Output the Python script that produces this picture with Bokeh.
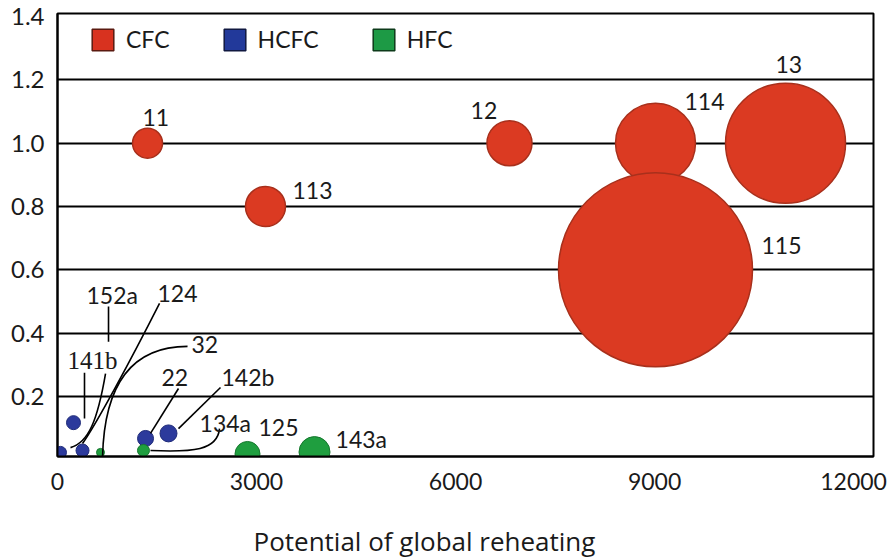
from bokeh.plotting import figure
from bokeh.models import Range1d, FixedTicker, PrintfTickFormatter, Legend, LegendItem, Title
from bokeh.core.properties import value
from bokeh.embed import file_html
from bokeh.resources import INLINE

# ---------------- data ----------------
x_ticks = [0, 3000, 6000, 9000, 12000]
y_ticks = [0.2, 0.4, 0.6, 0.8, 1.0, 1.2, 1.4]

cfc_names = ["11", "113", "12", "114", "13", "115"]
cfc_gwp = [1357, 3135, 6813, 9014, 10974, 9014]
cfc_odp = [1.0, 0.8, 1.0, 1.0, 1.0, 0.6]
cfc_bubble = [30, 40, 45, 80, 120, 194]

hcfc_names = ["141b", "124", "22", "142b", "152a"]
hcfc_gwp = [241, 377, 1327, 1673, 45]
hcfc_odp = [0.117, 0.029, 0.067, 0.083, 0.023]
hcfc_bubble = [14, 13, 16, 17, 12]

hfc_names = ["134a", "32", "125", "143a"]
hfc_gwp = [1296, 648, 2864, 3874]
hfc_odp = [0.029, 0.023, 0.018, 0.024]
hfc_bubble = [12, 8, 25, 31]

# label annotations (data coordinates)
lab_text = ["11", "113", "12", "114", "13", "115", "152a", "124", "32", "22", "142b", "134a", "125", "143a"]
lab_x = [1281, 3542, 6226, 9451, 10823, 10612, 437, 1507, 2020, 1568, 2472, 2141, 3030, 4191]
lab_y = [1.081, 0.851, 1.104, 1.132, 1.249, 0.677, 0.519, 0.525, 0.364, 0.260, 0.260, 0.117, 0.102, 0.064]
serif_text = ["141b"]
serif_x = [151]
serif_y = [0.313]

# leader lines
seg_x0 = [769, 407, 1824, 2457]
seg_y0 = [0.484, 0.275, 0.225, 0.228]
seg_x1 = [769, 407, 1402, 1824]
seg_y1 = [0.373, 0.130, 0.083, 0.098]

bz_x0 = [724, 1538, 1960, 2442]
bz_y0 = [0.272, 0.494, 0.358, 0.098]
bz_cx0 = [603, 1100, 1251, 2412]
bz_cy0 = [0.124, 0.313, 0.358, 0.029]
bz_cx1 = [467, 573, 693, 2035]
bz_cy1 = [0.054, 0.108, 0.275, 0.023]
bz_x1 = [196, 377, 678, 1402]
bz_y1 = [0.038, 0.051, -0.003, 0.029]

legend_labels = ["CFC", "HCFC", "HFC"]
x_title = "Potential of global reheating"

RED, RED_E = "#db3a22", "#a8301c"
BLUE, BLUE_E = "#2c3a9c", "#1e2a78"
GREEN, GREEN_E = "#1f9e3f", "#17782f"
FONT = "Lato"

p = figure(width=888, height=558, output_backend="svg", toolbar_location=None,
           x_range=Range1d(0, 12300), y_range=Range1d(0.01, 1.41),
           min_border_left=57, min_border_top=13, min_border_right=15, min_border_bottom=102)
p.background_fill_color = "white"
p.border_fill_color = "white"
p.outline_line_color = "black"
p.outline_line_width = 2

p.xgrid.visible = False
p.ygrid.ticker = FixedTicker(ticks=[0.2, 0.4, 0.6, 0.8, 1.0, 1.2])
p.ygrid.grid_line_color = "black"
p.ygrid.grid_line_width = 2

p.xaxis.ticker = FixedTicker(ticks=x_ticks)
p.yaxis.ticker = FixedTicker(ticks=y_ticks)
p.yaxis.formatter = PrintfTickFormatter(format="%.1f")
for ax in (p.xaxis, p.yaxis):
    ax.major_tick_line_color = None
    ax.minor_tick_line_color = None
    ax.axis_line_color = "black"
    ax.axis_line_width = 2
    ax.major_label_text_font = FONT
    ax.major_label_text_color = "#1a1a1a"
p.yaxis.major_label_standoff = 7
p.xaxis.major_label_standoff = 10
p.yaxis.major_label_text_font_size = "24px"
p.xaxis.major_label_text_font_size = "23px"
# spacer between the tick labels and the (offset) axis title
p.xaxis.axis_label = " "
p.xaxis.axis_label_text_font_size = "2px"
p.xaxis.axis_label_standoff = 23

# x-axis title, placed as in the reference (left of the frame centre)
p.add_layout(Title(text=x_title, align="left", offset=196, standoff=0,
                   text_font="Open Sans", text_font_size="26px", text_font_style="normal",
                   text_color="#1a1a1a"), "below")

# bubbles
p.scatter(cfc_gwp, cfc_odp, size=cfc_bubble, fill_color=RED, line_color=RED_E, line_width=1.5)
p.scatter(hcfc_gwp, hcfc_odp, size=hcfc_bubble, fill_color=BLUE, line_color=BLUE_E, line_width=1)
p.scatter(hfc_gwp, hfc_odp, size=hfc_bubble, fill_color=GREEN, line_color=GREEN_E, line_width=1)

# leader lines
p.segment(seg_x0, seg_y0, seg_x1, seg_y1, line_color="black", line_width=1.6)
p.bezier(x0=bz_x0, y0=bz_y0, x1=bz_x1, y1=bz_y1, cx0=bz_cx0, cy0=bz_cy0, cx1=bz_cx1, cy1=bz_cy1,
         line_color="black", line_width=1.6)

# labels
p.text(lab_x, lab_y, text=lab_text, text_font=value(FONT), text_font_size="23px",
       text_baseline="middle", text_align="left", text_color="#1a1a1a")
p.text(serif_x, serif_y, text=serif_text, text_font=value("Liberation Serif"), text_font_size="25px",
       text_baseline="middle", text_align="left", text_color="#1a1a1a")

# legend (invisible zero-size swatch renderers anchored at each group's first point)
swatches = []
for gx, gy, fc, lc in ((cfc_gwp, cfc_odp, "#d8321f", "#5a1a10"),
                       (hcfc_gwp, hcfc_odp, "#22399a", "#101840"),
                       (hfc_gwp, hfc_odp, "#1d9a45", "#0d3a1a")):
    r = p.quad(left=gx[:1], right=gx[:1], top=gy[:1], bottom=gy[:1],
               fill_color=fc, line_color=lc, line_width=1.5, visible=False)
    swatches.append(r)
legend = Legend(items=[LegendItem(label=lbl, renderers=[r]) for lbl, r in zip(legend_labels, swatches)],
                orientation="horizontal", location=(32, 403),
                glyph_width=27, glyph_height=27, label_standoff=10, spacing=51,
                padding=0, margin=0, border_line_color=None, background_fill_alpha=0,
                label_text_font=FONT, label_text_font_size="23px", label_text_color="#1a1a1a")
p.add_layout(legend, "center")

open("out.html", "w").write(file_html(p, INLINE))
